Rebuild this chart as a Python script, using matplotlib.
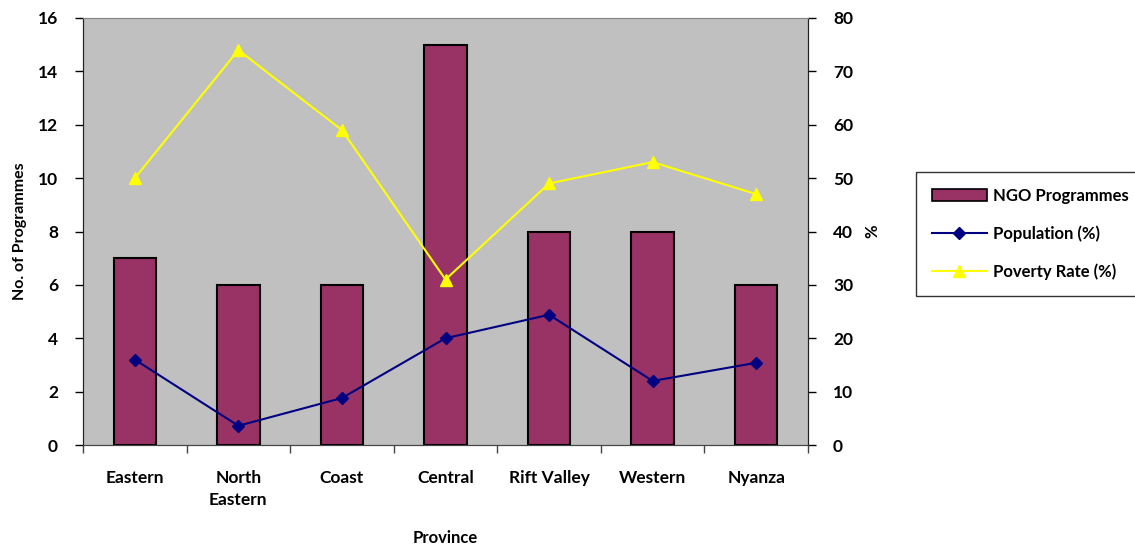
import matplotlib.pyplot as plt
import numpy as np
from matplotlib.lines import Line2D
from matplotlib.patches import Patch

plt.rcParams['font.family'] = ['Lato', 'DejaVu Sans']
plt.rcParams['font.weight'] = 'bold'

provinces = ["Eastern", "North\nEastern", "Coast", "Central", "Rift Valley", "Western", "Nyanza"]
ngo_programmes = [7, 6, 6, 15, 8, 8, 6]
population_pct = [16, 3.6, 8.8, 20, 24.4, 12, 15.4]
poverty_rate = [50, 74, 59, 31, 49, 53, 47]

fig = plt.figure(figsize=(11.35, 5.5), dpi=100)
ax = fig.add_axes([83 / 1135, 1 - 445 / 550, (808 - 83) / 1135, (445 - 18) / 550])
ax.set_facecolor('#C0C0C0')

x = np.arange(len(provinces))
ax.bar(x, ngo_programmes, width=0.41, color='#993366', edgecolor='black', linewidth=1.5, zorder=2)
ax.set_xlim(-0.5, len(provinces) - 0.5)
ax.set_ylim(0, 16)
ax.set_yticks(range(0, 17, 2))
ax.set_xticks(x)
ax.set_xticklabels(provinces, fontsize=12.5, fontweight='bold', linespacing=1.45)
ax.tick_params(axis='x', length=0, pad=18)
ax.set_xticks(np.arange(-0.5, len(provinces)), minor=True)
ax.tick_params(axis='x', which='minor', length=6, width=1, color='#444444')
ax.tick_params(axis='y', length=6, width=1, labelsize=12.5, pad=12)
for lab in ax.get_yticklabels():
    lab.set_fontweight('bold')
ax.set_ylabel("No. of Programmes", fontsize=11.5, fontweight='bold', labelpad=8)
ax.set_xlabel("Province", fontsize=12, fontweight='bold', labelpad=16)

ax2 = ax.twinx()
ax2.plot(x, population_pct, color='#000080', marker='D', markersize=6, linewidth=1.5, zorder=3)
ax2.plot(x, poverty_rate, color='#FFFF00', marker='^', markersize=8, linewidth=1.5, zorder=3)
ax2.set_ylim(0, 80)
ax2.set_yticks(range(0, 81, 10))
ax2.tick_params(axis='y', length=6, width=1, labelsize=12.5, pad=12)
for lab in ax2.get_yticklabels():
    lab.set_fontweight('bold')
ax2.set_ylabel("%", fontsize=12, fontweight='bold', labelpad=8)

for a in (ax, ax2):
    a.spines['top'].set_color('#888888')
    a.spines['bottom'].set_color('#444444')
    a.spines['left'].set_color('#222222')
    a.spines['right'].set_color('#222222')

handles = [
    Patch(facecolor='#993366', edgecolor='black', linewidth=1.2),
    Line2D([], [], color='#000080', marker='D', markersize=6, linewidth=1.5),
    Line2D([], [], color='#FFFF00', marker='^', markersize=8, linewidth=1.5),
]
labels = ["NGO Programmes", "Population (%)", "Poverty Rate (%)"]
leg = fig.legend(handles, labels, loc='upper left', bbox_to_anchor=(916 / 1135, 1 - 172 / 550),
                 fontsize=12, frameon=True, fancybox=False, edgecolor='black',
                 handlelength=3.3, handletextpad=0.35, labelspacing=1.3, borderpad=0.95,
                 borderaxespad=0)
leg.get_frame().set_linewidth(1)
for t in leg.get_texts():
    t.set_fontweight('bold')

fig.savefig('out.png', dpi=100)
